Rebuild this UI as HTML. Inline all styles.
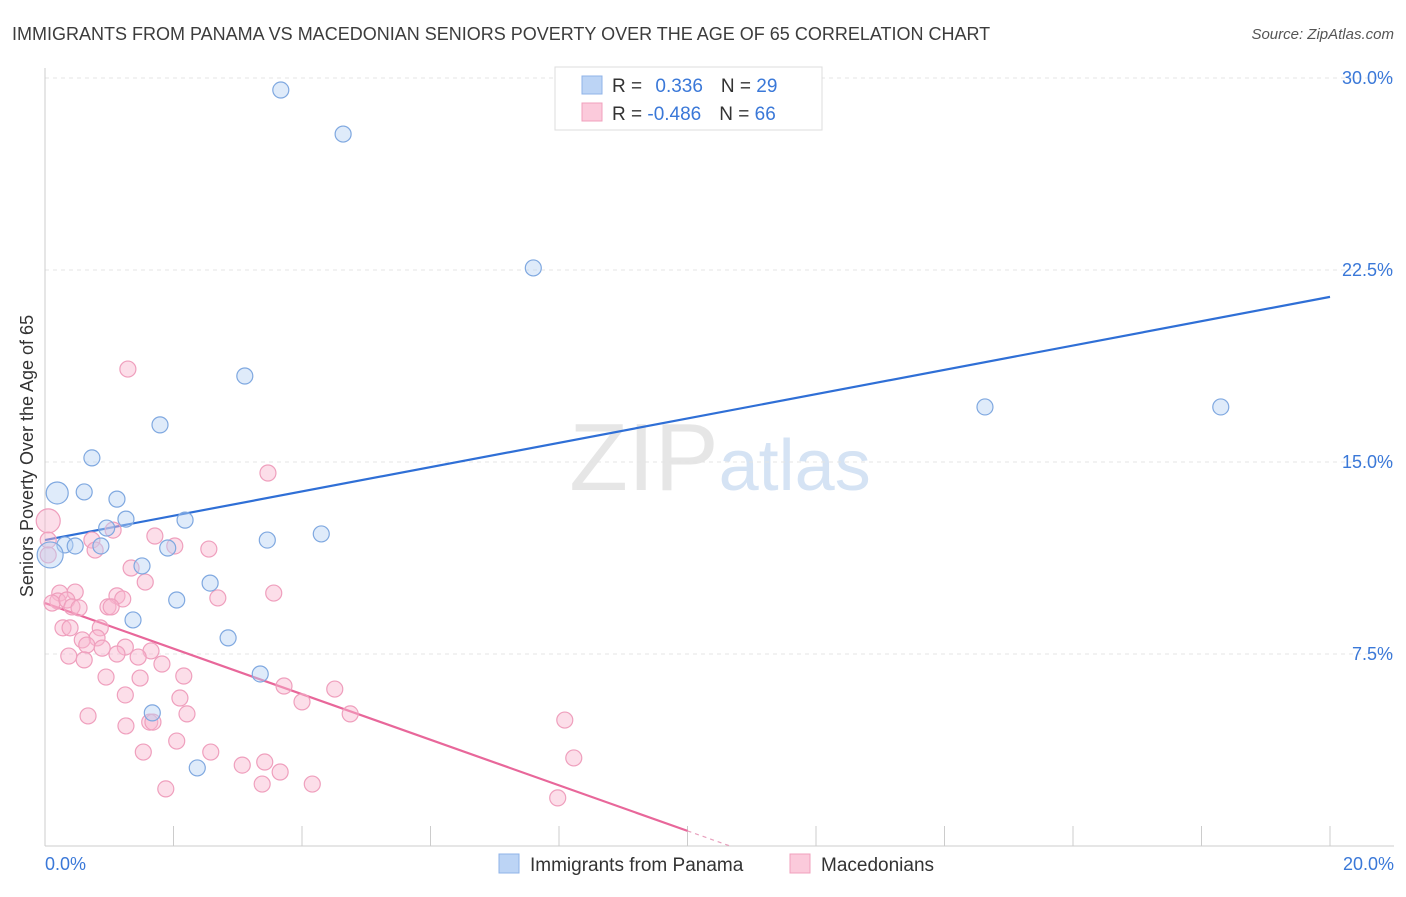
<!DOCTYPE html>
<html><head><meta charset="utf-8"><style>
body{margin:0;background:#fff;font-family:"Liberation Sans",sans-serif;}
svg text{font-family:"Liberation Sans",sans-serif;}
</style></head><body>
<svg id="chart" width="1406" height="892" xmlns="http://www.w3.org/2000/svg">
<text x="12" y="40" font-size="18" fill="#3c3c3c">IMMIGRANTS FROM PANAMA VS MACEDONIAN SENIORS POVERTY OVER THE AGE OF 65 CORRELATION CHART</text>
<text x="1394" y="39" font-size="15" fill="#555" text-anchor="end" font-style="italic">Source: ZipAtlas.com</text>
<text x="720" y="490" font-size="96" fill="#e6e6e6" text-anchor="middle" font-family="Liberation Serif">ZIP<tspan fill="#d5e3f4" font-family="Liberation Sans" font-size="72">atlas</tspan></text>
<g id="grid"></g>
<g id="axes"></g>
<text transform="translate(33,456) rotate(-90)" font-size="18" fill="#333" text-anchor="middle">Seniors Poverty Over the Age of 65</text>
<g id="lines"></g>
<g id="pts"></g>
<g>
<rect x="555" y="67" width="267" height="63" fill="#fff" stroke="#ddd"/>
<rect x="582" y="76" width="20" height="18" fill="#bcd4f5" stroke="#8fb3e8"/>
<rect x="582" y="103" width="20" height="18" fill="#fbcadb" stroke="#f0a0bd"/>
<text x="612" y="92" font-size="19" fill="#333">R = <tspan fill="#3a78d8" dx="8">0.336</tspan><tspan dx="18" fill="#333">N = </tspan><tspan fill="#3a78d8">29</tspan></text>
<text x="612" y="120" font-size="19" fill="#333">R = <tspan fill="#3a78d8">-0.486</tspan><tspan dx="18" fill="#333">N = </tspan><tspan fill="#3a78d8">66</tspan></text>
</g>
<g>
<rect x="499" y="854" width="20" height="19" fill="#bcd4f5" stroke="#8fb3e8"/>
<text x="530" y="871" font-size="19" fill="#333">Immigrants from Panama</text>
<rect x="790" y="854" width="20" height="19" fill="#fbcadb" stroke="#f0a0bd"/>
<text x="821" y="871" font-size="19" fill="#333">Macedonians</text>
</g>
</svg>
<script>
const yTicks=[7.5,15,22.5,30];
const yTickLabels=["7.5%","15.0%","22.5%","30.0%"];
const xTickLabels=["0.0%","20.0%"];
const blueX=[3.67,4.64,7.60,3.11,1.79,0.73,0.19,0.61,1.12,1.26,2.18,0.96,0.31,0.47,0.87,1.91,3.46,4.30,1.51,2.57,2.05,1.37,2.85,3.35,1.67,2.37,14.63,18.30,0.08];
const blueY=[29.53,27.81,22.58,18.36,16.45,15.16,13.79,13.83,13.55,12.77,12.73,12.42,11.76,11.72,11.72,11.64,11.95,12.19,10.94,10.27,9.61,8.83,8.13,6.72,5.20,3.05,17.15,17.15,11.37];
const pinkX=[1.29,3.47,0.05,0.05,1.06,0.73,1.71,2.02,0.78,2.55,1.34,1.56,0.23,0.47,0.20,0.11,0.34,1.12,1.21,2.69,3.56,0.42,0.53,0.98,1.03,0.28,0.39,0.86,0.81,0.58,0.65,1.25,1.65,0.37,0.61,1.12,0.89,1.45,1.82,0.95,1.48,2.16,3.72,4.51,1.25,2.10,4.00,0.67,2.21,4.75,1.26,1.63,1.68,8.09,2.05,2.58,1.53,3.07,3.42,8.23,3.66,3.38,4.16,1.88,7.98,0.05];
const pinkY=[18.63,14.57,12.70,11.95,12.34,11.95,12.11,11.72,11.56,11.60,10.86,10.31,9.88,9.92,9.57,9.49,9.61,9.77,9.65,9.69,9.88,9.34,9.30,9.34,9.34,8.52,8.52,8.52,8.13,8.05,7.85,7.77,7.62,7.42,7.27,7.50,7.73,7.38,7.11,6.60,6.56,6.64,6.25,6.13,5.90,5.78,5.63,5.08,5.16,5.16,4.69,4.84,4.84,4.92,4.10,3.67,3.67,3.16,3.28,3.44,2.89,2.42,2.42,2.23,1.88,11.37];
const blueLine=[11.95,21.45];
const pinkLine=[9.49,0.59];
const NS="http://www.w3.org/2000/svg";
const sx=v=>45+v*64.25, sy=v=>846-v*25.6;
function mk(tag,attrs,parent){const e=document.createElementNS(NS,tag);for(const k in attrs)e.setAttribute(k,attrs[k]);document.getElementById(parent).appendChild(e);return e;}
yTicks.forEach((t,i)=>{
 const g=mk('line',{x1:45,x2:1394,y1:sy(t),y2:sy(t),stroke:'#e4e4e4','stroke-dasharray':'4,4'},'grid');
 
 
 const l=mk('text',{x:1393,y:sy(t)+6,'font-size':18,fill:'#3a78d8','text-anchor':'end'},'axes');
 l.textContent=yTickLabels[i];
 
 
});
const ax=mk('line',{x1:45,x2:1394,y1:846,y2:846,stroke:'#ccc'},'axes');


const ay=mk('line',{x1:45,x2:45,y1:68,y2:846,stroke:'#ccc'},'axes');


for(let i=0;i<=10;i++){const t=mk('line',{x1:sx(i*2),x2:sx(i*2),y1:826,y2:846,stroke:'#ccc'},'axes');
 
 }
[[0,45,'start'],[20,1394,'end']].forEach((d,i)=>{const l=mk('text',{x:d[1],y:870,'font-size':18,fill:'#3a78d8','text-anchor':d[2]},'axes');l.textContent=xTickLabels[i];
 
 });
pinkX.forEach((x,i)=>{const big=(i==2)?12:8;const c=mk('circle',{cx:sx(x),cy:sy(pinkY[i]),r:big,fill:'rgba(248,182,206,0.45)',stroke:'#ef9fbd','stroke-width':1.2},'pts');
 
 });
blueX.forEach((x,i)=>{const big=(i==6)?11:(i==28?13:8);const c=mk('circle',{cx:sx(x),cy:sy(blueY[i]),r:big,fill:'rgba(185,210,245,0.45)',stroke:'#7fa8e0','stroke-width':1.2},'pts');
 
 });
const bl=mk('line',{x1:sx(0),y1:sy(blueLine[0]),x2:sx(20),y2:sy(blueLine[1]),stroke:'#2f6fd6','stroke-width':2.2},'lines');


const pl=mk('line',{x1:sx(0),y1:sy(pinkLine[0]),x2:sx(10),y2:sy(pinkLine[1]),stroke:'#e8679a','stroke-width':2.2},'lines');


const slope=(pinkLine[1]-pinkLine[0])/10;
const pd=mk('line',{x1:sx(10),y1:sy(pinkLine[1]),x2:sx(10-pinkLine[1]/slope),y2:sy(0),stroke:'#e8a0bd','stroke-width':1.2,'stroke-dasharray':'4,4'},'lines');


</script>
</body></html>
